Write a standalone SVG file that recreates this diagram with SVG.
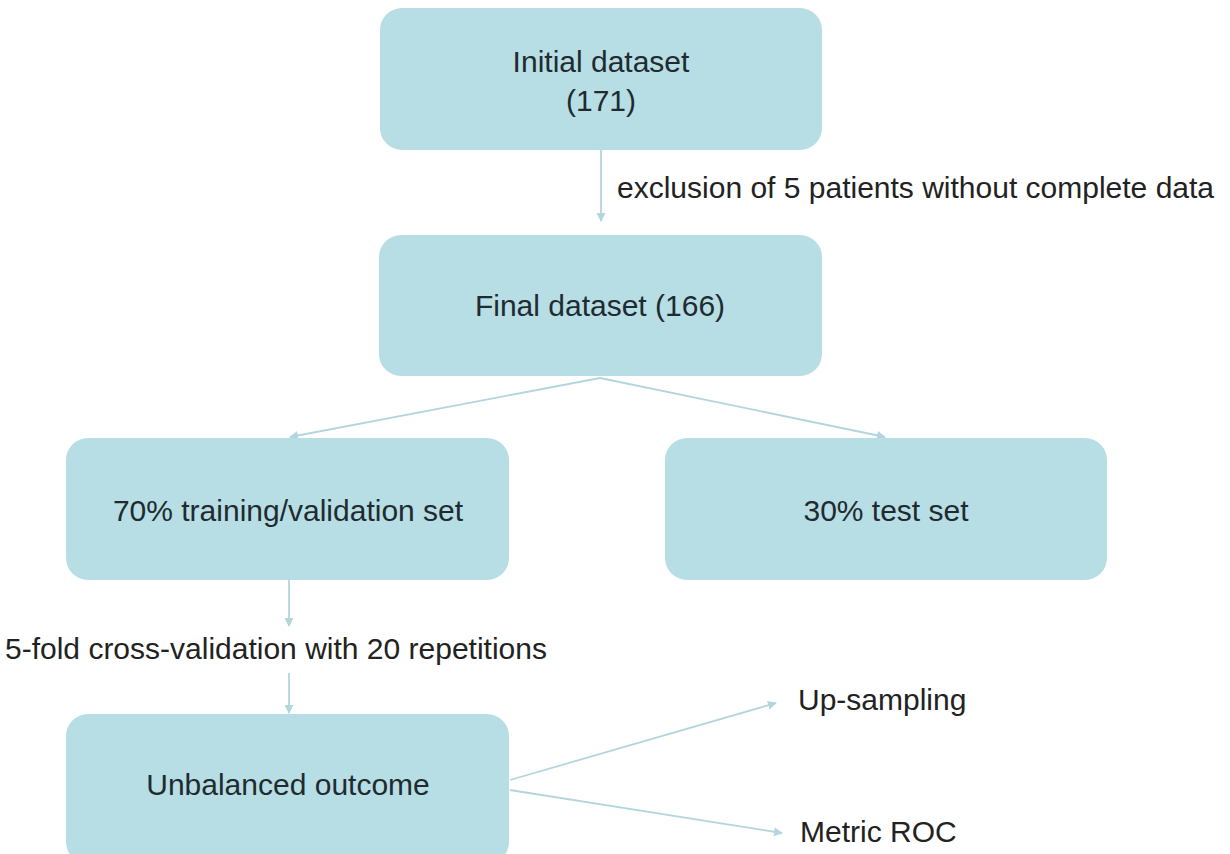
<svg xmlns="http://www.w3.org/2000/svg" width="1230" height="854" viewBox="0 0 1230 854">
  <style>
    .box { fill: #b6dee4; }
    .lbl { font-family: "Liberation Sans", Arial, sans-serif; font-size: 30px; fill: #1f2b30; text-anchor: middle; }
    .note { font-family: "Liberation Sans", Arial, sans-serif; font-size: 30px; fill: #222222; }
    .wire { stroke: #b3d6dc; stroke-width: 1.8; fill: none; marker-end: url(#tip); }
  </style>
  <defs>
    <marker id="tip" viewBox="0 0 10 10" refX="9" refY="5" markerWidth="5" markerHeight="5" orient="auto" markerUnits="strokeWidth">
      <path d="M0,0 L10,5 L0,10 z" fill="#b3d6dc"/>
    </marker>
  </defs>
  <rect width="1230" height="854" fill="#ffffff"/>

  <g id="connectors">
    <line class="wire" x1="601" y1="150" x2="601" y2="221"/>
    <line class="wire" x1="600" y1="378" x2="290" y2="437"/>
    <line class="wire" x1="600" y1="378" x2="885" y2="437"/>
    <line class="wire" x1="289" y1="580" x2="289" y2="626"/>
    <line class="wire" x1="289" y1="673" x2="289" y2="713"/>
    <line class="wire" x1="510" y1="780" x2="776" y2="703"/>
    <line class="wire" x1="510" y1="790" x2="782" y2="833"/>
  </g>

  <g id="node-initial">
    <rect class="box" x="380" y="8" width="442" height="142" rx="22"/>
    <text class="lbl" x="601" y="72">Initial dataset</text>
    <text class="lbl" x="601" y="111">(171)</text>
  </g>

  <g id="node-final">
    <rect class="box" x="379" y="235" width="443" height="141" rx="22"/>
    <text class="lbl" x="600" y="316">Final dataset (166)</text>
  </g>

  <g id="node-training">
    <rect class="box" x="66" y="438" width="443" height="142" rx="22"/>
    <text class="lbl" x="288" y="521">70% training/validation set</text>
  </g>

  <g id="node-test">
    <rect class="box" x="665" y="438" width="442" height="142" rx="22"/>
    <text class="lbl" x="886" y="521">30% test set</text>
  </g>

  <g id="node-unbalanced">
    <rect class="box" x="66" y="714" width="443" height="150" rx="22"/>
    <text class="lbl" x="288" y="795">Unbalanced outcome</text>
  </g>

  <g id="labels">
    <text class="note" x="617" y="198">exclusion of 5 patients without complete data</text>
    <text class="note" x="5" y="659">5-fold cross-validation with 20 repetitions</text>
    <text class="note" x="798" y="710">Up-sampling</text>
    <text class="note" x="800" y="842">Metric ROC</text>
  </g>
</svg>
